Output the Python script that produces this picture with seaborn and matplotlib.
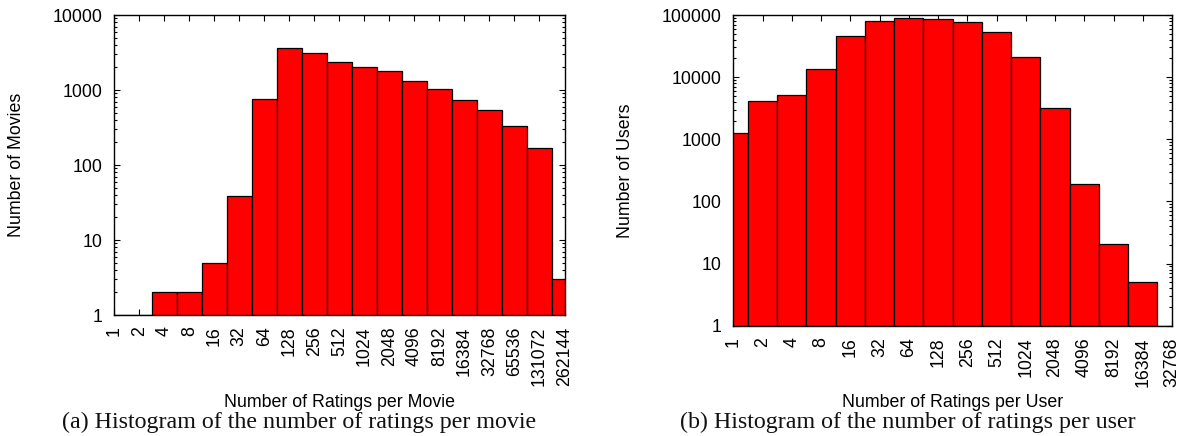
import matplotlib
matplotlib.use("Agg")
import matplotlib.pyplot as plt
import matplotlib.ticker as mticker
import seaborn as sns
import pandas as pd

# ---------------- data ----------------
movie_bins = ["1", "2", "4", "8", "16", "32", "64", "128", "256", "512", "1024",
              "2048", "4096", "8192", "16384", "32768", "65536", "131072", "262144"]
movie_counts = [1, 1, 2, 2, 5, 39, 760, 3600, 3080, 2360, 2030, 1790,
                1320, 1020, 736, 547, 334, 170, 3]

user_bins = ["1", "2", "4", "8", "16", "32", "64", "128", "256", "512", "1024",
             "2048", "4096", "8192", "16384", "32768"]
user_counts = [1250, 4200, 5100, 13500, 45900, 80000, 89500, 85300, 76200,
               53200, 21100, 3150, 188, 21, 5, 1]

movie_yticks = [1, 10, 100, 1000, 10000]
movie_ylabels = ["1", "10", "100", "1000", "10000"]
user_yticks = [1, 10, 100, 1000, 10000, 100000]
user_ylabels = ["1", "10", "100", "1000", "10000", "100000"]

# ---------------- style ----------------
sns.set_theme(style="ticks")
plt.rcParams["font.family"] = ["Liberation Sans", "DejaVu Sans"]
plt.rcParams["axes.linewidth"] = 1.0
plt.rcParams["axes.edgecolor"] = "black"

FS = 12.8
W, H = 1184, 436
fig = plt.figure(figsize=(W / 100, H / 100), dpi=100)

def px_axes(x0, y_top, x1, y_bot):
    return fig.add_axes([x0 / W, (H - y_bot) / H, (x1 - x0) / W, (y_bot - y_top) / H])

ax1 = px_axes(114.3, 15, 564.5, 315)
ax2 = px_axes(733.3, 15, 1172, 325.7)

def draw(ax, bins, counts, yticks, ylabels, ylim_top, xlabel, ylabel, xlab_y, ylab_x):
    df = pd.DataFrame({"bin": bins, "count": counts})
    sns.barplot(data=df, x="bin", y="count", order=bins, ax=ax, color="#ff0000",
                saturation=1, width=1.0, edgecolor="black", linewidth=0.9,
                errorbar=None)
    ax.set_yscale("log")
    ax.set_ylim(1, ylim_top)
    ax.set_xlim(0, len(bins) - 1)
    ax.set_yticks(yticks)
    ax.set_yticklabels(ylabels)
    ax.yaxis.set_minor_locator(mticker.LogLocator(base=10, subs=range(2, 10), numticks=20))
    ax.yaxis.set_minor_formatter(mticker.NullFormatter())
    ax.set_xticks(range(len(bins)))
    ax.set_xticklabels(bins)
    ax.tick_params(axis="both", which="both", direction="in", top=True, right=True,
                   colors="black", width=0.8)
    ax.tick_params(axis="both", which="major", length=4.3, labelsize=FS, pad=8.3)
    ax.tick_params(axis="y", which="minor", length=2.3)
    ax.tick_params(axis="x", which="major", labelrotation=90)
    for spine in ax.spines.values():
        spine.set_visible(True)
        spine.set_color("black")
        spine.set_linewidth(1.0)
    ax.set_xlabel(xlabel, fontsize=FS, color="black")
    ax.xaxis.set_label_coords(0.5, xlab_y)
    ax.xaxis.label.set_va("baseline")
    ax.set_ylabel(ylabel, fontsize=FS, color="black")
    ax.yaxis.set_label_coords(ylab_x, 0.5)
    ax.yaxis.label.set_va("center")

draw(ax1, movie_bins, movie_counts, movie_yticks, movie_ylabels, 10000,
     "Number of Ratings per Movie", "Number of Movies",
     -(407.3 - 315) / 300, (17 - 114.3) / 450.2)
draw(ax2, user_bins, user_counts, user_yticks, user_ylabels, 100000,
     "Number of Ratings per User", "Number of Users",
     -(407.3 - 325.7) / 310.7, (626 - 733.3) / 438.7)

cap_kw = dict(fontsize=17.3, family=["Liberation Serif", "DejaVu Serif"],
              ha="center", va="baseline", color="#111111")
fig.text(299 / W, (H - 428) / H, "(a) Histogram of the number of ratings per movie", **cap_kw)
fig.text(908 / W, (H - 428) / H, "(b) Histogram of the number of ratings per user", **cap_kw)

fig.savefig("out.png", dpi=100)
